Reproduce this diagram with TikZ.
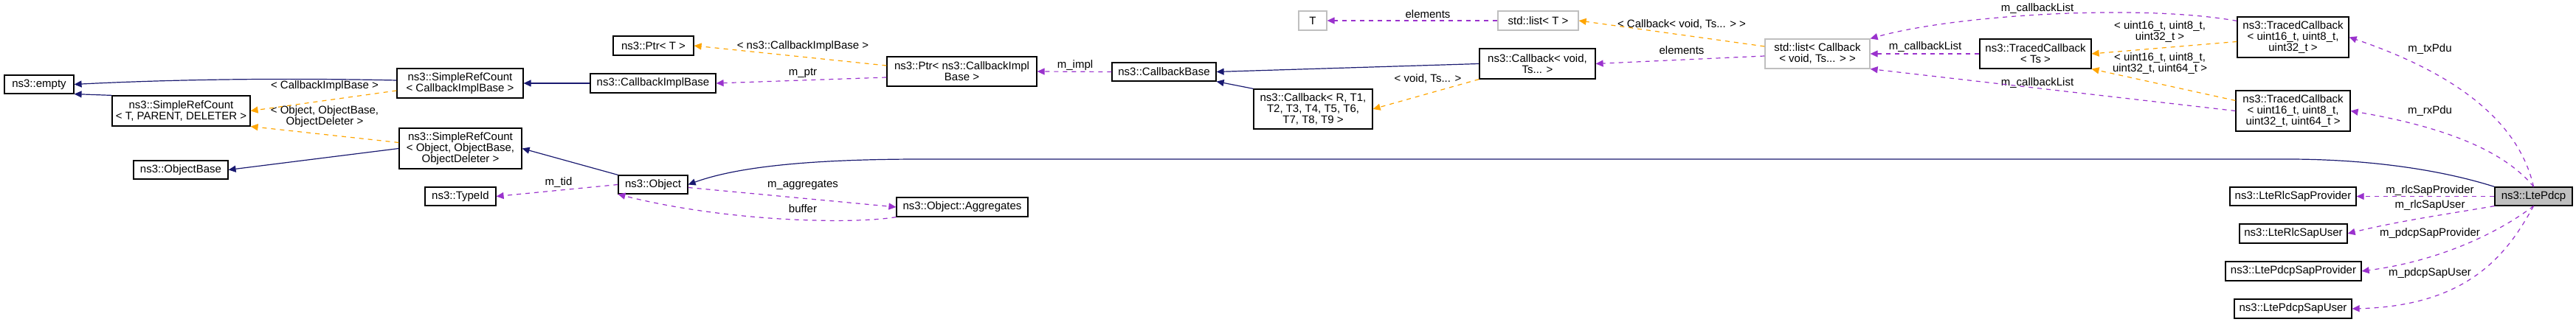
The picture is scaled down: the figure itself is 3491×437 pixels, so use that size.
\documentclass[tikz,border=0pt]{standalone}
\usepackage{fontspec}
\setmainfont{Liberation Sans}
\usetikzlibrary{arrows.meta}
\definecolor{navyline}{HTML}{191970}
\definecolor{memline}{HTML}{9A32CD}
\definecolor{tmplline}{HTML}{FFA500}
\definecolor{extgray}{HTML}{BFBFBF}

\begin{document}
\begin{tikzpicture}[
  x=0.5pt, y=-0.5pt,
  >={Triangle[length=5pt,width=4.5pt]},
  font=\fontsize{7.5}{7.5}\selectfont,
  every node/.style={inner sep=1pt,align=center},
  cls/.style={draw,line width=0.6pt},
  ext/.style={draw=extgray,line width=0.6pt},
  hl/.style={draw,line width=0.6pt,fill=extgray},
  inh/.style={->,navyline,line width=0.6pt},
  mem/.style={->,memline,dashed,line width=0.6pt},
  tmpl/.style={->,tmplline,dashed,line width=0.6pt},
  lbl/.style={inner sep=0pt},
  ]
  \useasboundingbox (0,0) rectangle (3491,437);
  % classes
  \node[cls, minimum width=47pt, minimum height=12.5pt] (empty) at (53,114.5) {ns3::empty};
  \node[cls, minimum width=93.5pt, minimum height=20.5pt] (srcT) at (245.5,150.5) {ns3::SimpleRefCount\\\textless{} T, PARENT, DELETER \textgreater};
  \node[cls, minimum width=85.5pt, minimum height=20pt] (srcCib) at (623.5,113) {ns3::SimpleRefCount\\\textless{} CallbackImplBase \textgreater};
  \node[cls, minimum width=83pt, minimum height=27.5pt] (srcObj) at (624,201.5) {ns3::SimpleRefCount\\\textless{} Object, ObjectBase,\\ObjectDeleter \textgreater};
  \node[cls, minimum width=64pt, minimum height=12.5pt] (objBase) at (245,230.5) {ns3::ObjectBase};
  \node[cls, minimum width=48pt, minimum height=12.5pt] (typeId) at (624,266.5) {ns3::TypeId};
  \node[cls, minimum width=47pt, minimum height=12.5pt] (object) at (885,250.5) {ns3::Object};
  \node[cls, minimum width=54.5pt, minimum height=13pt] (ptrT) at (885.5,62) {ns3::Ptr\textless{} T \textgreater};
  \node[cls, minimum width=85pt, minimum height=13pt] (cib) at (885,113) {ns3::CallbackImplBase};
  \node[cls, minimum width=101.5pt, minimum height=20pt] (ptrCib) at (1303.5,97) {ns3::Ptr\textless{} ns3::CallbackImpl\\Base \textgreater};
  \node[cls, minimum width=70.5pt, minimum height=12.5pt] (cbBase) at (1577.5,97.5) {ns3::CallbackBase};
  \node[cls, minimum width=80.5pt, minimum height=27pt] (cbR) at (1779.5,148) {ns3::Callback\textless{} R, T1,\\T2, T3, T4, T5, T6,\\T7, T8, T9 \textgreater};
  \node[cls, minimum width=89pt, minimum height=13pt] (aggr) at (1304,281) {ns3::Object::Aggregates};
  \node[ext, minimum width=19pt, minimum height=13pt] (tT) at (1779,28) {T};
  \node[ext, minimum width=54.5pt, minimum height=13pt] (listT) at (2084.5,28) {std::list\textless{} T \textgreater};
  \node[cls, minimum width=78.5pt, minimum height=20.5pt] (cbVoid) at (2083.5,86.5) {ns3::Callback\textless{} void,\\Ts... \textgreater};
  \node[ext, minimum width=71pt, minimum height=20pt] (listCb) at (2463,73) {std::list\textless{} Callback\\\textless{} void, Ts... \textgreater{} \textgreater};
  \node[cls, minimum width=75.5pt, minimum height=20pt] (tcTs) at (2758.5,73) {ns3::TracedCallback\\\textless{} Ts \textgreater};
  \node[cls, minimum width=75.5pt, minimum height=27.5pt] (tcTx) at (3107.5,50.5) {ns3::TracedCallback\\\textless{} uint16\_t, uint8\_t,\\uint32\_t \textgreater};
  \node[cls, minimum width=77.5pt, minimum height=27.5pt] (tcRx) at (3107.5,150.5) {ns3::TracedCallback\\\textless{} uint16\_t, uint8\_t,\\uint32\_t, uint64\_t \textgreater};
  \node[hl, minimum width=52.5pt, minimum height=12.5pt] (pdcp) at (3433.5,266.5) {ns3::LtePdcp};
  \node[cls, minimum width=85.5pt, minimum height=12.5pt] (rlcProv) at (3107.5,266.5) {ns3::LteRlcSapProvider};
  \node[cls, minimum width=73pt, minimum height=13pt] (rlcUser) at (3108,317) {ns3::LteRlcSapUser};
  \node[cls, minimum width=92pt, minimum height=13pt] (pdcpProv) at (3108,368) {ns3::LtePdcpSapProvider};
  \node[cls, minimum width=79.5pt, minimum height=13pt] (pdcpUser) at (3107.5,419) {ns3::LtePdcpSapUser};

  % labels
  \node[lbl] (lCib) at (440,117) {\textless{} CallbackImplBase \textgreater};
  \node[lbl] (lObj) at (440,158) {\textless{} Object, ObjectBase,\\ObjectDeleter \textgreater};
  \node[lbl] (lTid) at (757,248) {m\_tid};
  \node[lbl] (lPtrT) at (1088,63) {\textless{} ns3::CallbackImplBase \textgreater};
  \node[lbl] (lPtr) at (1088,99) {m\_ptr};
  \node[lbl] (lImpl) at (1457,89) {m\_impl};
  \node[lbl] (lAggr) at (1088,251) {m\_aggregates};
  \node[lbl] (lBuf) at (1088,283) {buffer};
  \node[lbl] (lVoid) at (1935,107) {\textless{} void, Ts... \textgreater};
  \node[lbl] (lElT) at (1935,19) {elements};
  \node[lbl] (lListT) at (2279,33) {\textless{} Callback\textless{} void, Ts... \textgreater{} \textgreater};
  \node[lbl] (lElCb) at (2279,68) {elements};
  \node[lbl] (lCbTs) at (2609,64) {m\_callbackList};
  \node[lbl] (lCbTx) at (2761,12) {m\_callbackList};
  \node[lbl] (lTmplTx) at (2927,43) {\textless{} uint16\_t, uint8\_t,\\uint32\_t \textgreater};
  \node[lbl] (lTmplRx) at (2927,86) {\textless{} uint16\_t, uint8\_t,\\uint32\_t, uint64\_t \textgreater};
  \node[lbl] (lCbRx) at (2761,113) {m\_callbackList};
  \node[lbl] (lTx) at (3293,67) {m\_txPdu};
  \node[lbl] (lRx) at (3293,151) {m\_rxPdu};
  \node[lbl] (lRlcP) at (3293,259) {m\_rlcSapProvider};
  \node[lbl] (lRlcU) at (3293,279) {m\_rlcSapUser};
  \node[lbl] (lPdcpP) at (3293,317) {m\_pdcpSapProvider};
  \node[lbl] (lPdcpU) at (3293,371) {m\_pdcpSapUser};

  % inheritance
  \draw [inh] (srcCib.west) ++(0,2pt) .. controls (400,106) and (250,107) .. (empty.east);
  \draw [inh] (srcT.north west) -- (empty.south east);
  \draw [inh] (srcObj.west) -- (objBase.east);
  \draw [inh] (object.north west) -- (srcObj.east);
  \draw [inh] (cib.west) -- (srcCib.east);
  \draw [inh] (cbVoid.west) -- (cbBase.east);
  \draw [inh] (cbR.north west) -- (cbBase.south east);
  \draw [inh] (pdcp.north west) .. controls (3300,228) and (3200,216) .. (3100,216) -- (1250,216) .. controls (1100,216) and (1000,226) .. (object.east);
  % templates
  \draw [tmpl] (srcCib.west) ++(0,-5pt) -- (srcT.east);
  \draw [tmpl] (srcObj.west) ++(0,4pt) -- (srcT.south east);
  \draw [tmpl] (ptrCib.west) ++(0,4pt) -- (ptrT.east);
  \draw [tmpl] (cbVoid.south west) -- (cbR.east);
  \draw [tmpl] (listCb.west) ++(0,5pt) -- (listT.east);
  \draw [tmpl] (tcTx.west) ++(0,-3pt) -- (tcTs.east);
  \draw [tmpl] (tcRx.west) ++(0,7pt) -- (tcTs.south east);
  % members
  \draw [mem] (object.west) -- (typeId.east);
  \draw [mem] (ptrCib.west) ++(0,-4pt) -- (cib.east);
  \draw [mem] (cbBase.west) -- (ptrCib.east);
  \draw [mem] (object.east) ++(0,-2pt) -- (aggr.west);
  \draw [mem] (aggr.south west) .. controls (1150,305) and (980,300) .. (object.south west);
  \draw [mem] (listT.west) -- (tT.east);
  \draw [mem] (listCb.west) ++(0,-1.5pt) -- (cbVoid.east);
  \draw [mem] (tcTs.west) -- (listCb.east);
  \draw [mem] (tcTx.north west) ++(0,-3pt) .. controls (2900,5) and (2650,20) .. (listCb.north east);
  \draw [mem] (tcRx.west) -- (listCb.south east);
  \draw [mem] (pdcp.north) .. controls (3410,150) and (3300,90) .. (tcTx.east);
  \draw [mem] (pdcp.north) .. controls (3390,200) and (3300,170) .. (tcRx.east);
  \draw [mem] (pdcp.west) -- (rlcProv.east);
  \draw [mem] (pdcp.south west) .. controls (3320,290) and (3250,300) .. (rlcUser.east);
  \draw [mem] (pdcp.south) .. controls (3380,320) and (3300,355) .. (pdcpProv.east);
  \draw [mem] (pdcp.south) .. controls (3400,340) and (3350,415) .. (pdcpUser.east);
\end{tikzpicture}
\end{document}
